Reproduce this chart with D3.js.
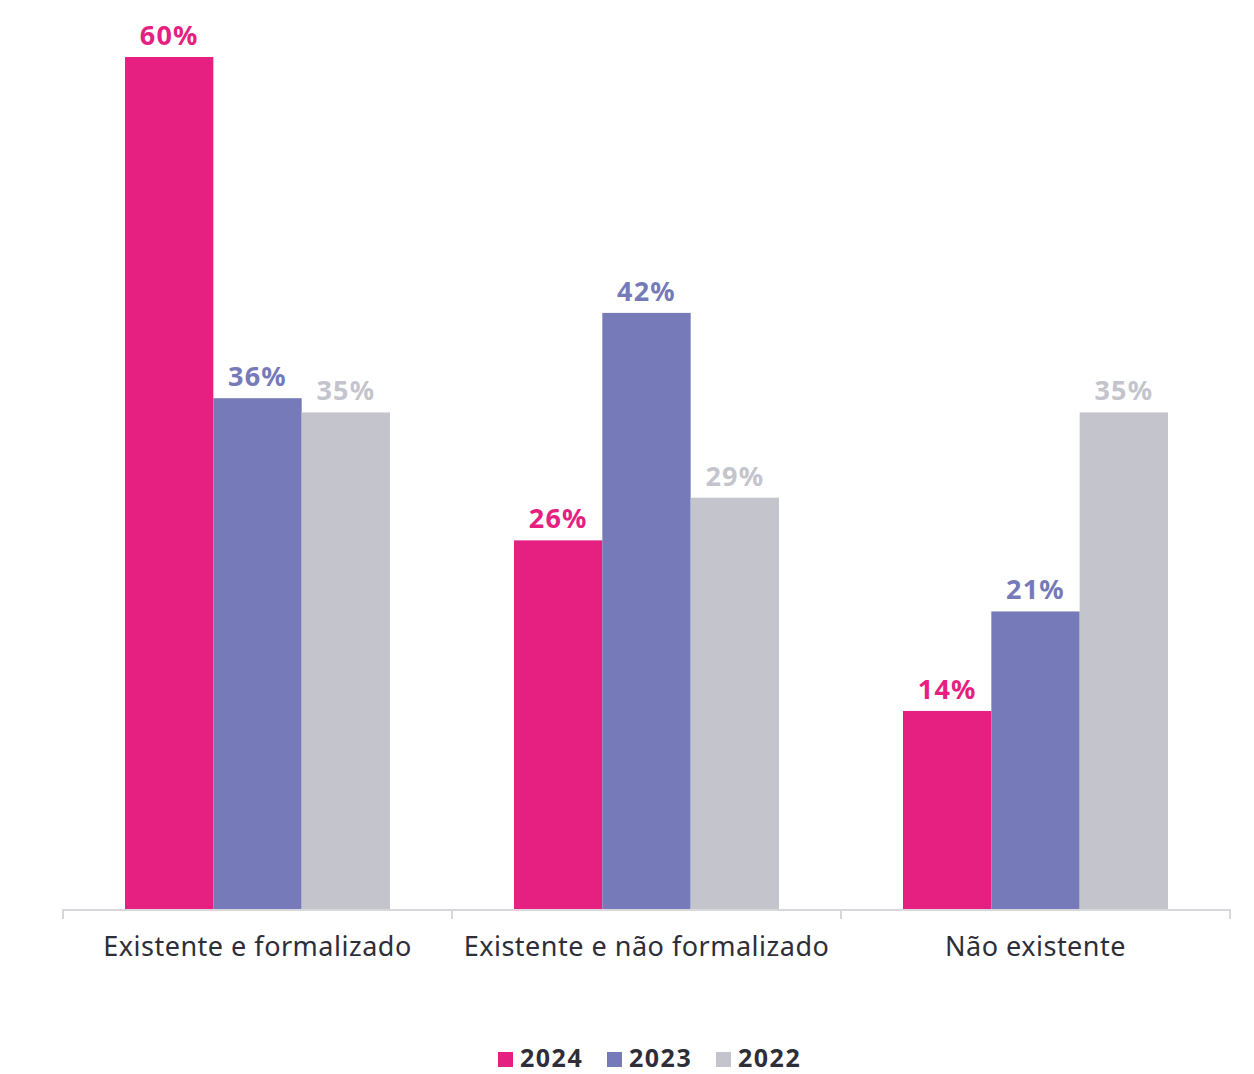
<!DOCTYPE html>
<html>
<head>
<meta charset="utf-8">
<script src="https://cdn.jsdelivr.net/npm/d3@7"></script>
<style>
	body { margin: 0; background: #fff; }
	svg text { font-family: "Noto Sans", "Open Sans", sans-serif; }
</style>
</head>
<body>
<svg class="mainsvg" width="1254" height="1074"></svg>
<script>
var categories = ["Existente e formalizado", "Existente e não formalizado", "Não existente"];
var years = ["2024", "2023", "2022"];
var values2024 = [60, 26, 14];
var values2023 = [36, 42, 21];
var values2022 = [35, 29, 35];

var colors = ["#e62081", "#767ab8", "#c4c4cd"];
var labelColors = ["#e62081", "#767ab8", "#c4c4cd"];

var svg = d3.select('.mainsvg');
var baseY = 910;

var series = [values2024, values2023, values2022];
var data = categories.map(function (c, i) {
	return { cat: c, vals: years.map(function (y, j) { return { year: y, idx: j, v: series[j][i] }; }) };
});

var x0 = d3.scaleBand().domain(categories).range([63, 1230]).padding(0);
var x1 = d3.scaleBand().domain(years).range([62, x0.bandwidth() - 62]).padding(0);
var y = d3.scaleLinear().domain([0, 60]).range([baseY, 57]);

var groups = svg.selectAll('.group')
	.data(data)
	.enter()
	.append('g')
	.attr('class', 'group')
	.attr('transform', function (d) { return 'translate(' + x0(d.cat) + ',0)'; });

groups.selectAll('rect')
	.data(function (d) { return d.vals; })
	.enter()
	.append('rect')
	.attr('x', function (d) { return x1(d.year); })
	.attr('y', function (d) { return y(d.v); })
	.attr('width', x1.bandwidth())
	.attr('height', function (d) { return baseY - y(d.v); })
	.attr('fill', function (d) { return colors[d.idx]; });

groups.selectAll('.val')
	.data(function (d) { return d.vals; })
	.enter()
	.append('text')
	.attr('class', 'val')
	.attr('x', function (d) { return x1(d.year) + x1.bandwidth() / 2; })
	.attr('y', function (d) { return y(d.v) - 12; })
	.attr('fill', function (d) { return labelColors[d.idx]; })
	.attr('font-size', '27px')
	.attr('font-weight', '700')
	.attr('letter-spacing', '1.2px')
	.style('text-anchor', 'middle')
	.text(function (d) { return d.v + '%'; });

// axis
var axis = svg.append('g')
	.attr('transform', 'translate(0,' + baseY + ')')
	.call(d3.axisBottom(x0).tickSize(0).tickPadding(0).tickFormat(''));
axis.select('.domain').attr('stroke', '#d8d8dc').attr('stroke-width', 2).attr('d', 'M63,9V0H1230V9');
axis.selectAll('.tick').remove();

var bounds = x0.domain().map(function (c) { return x0(c); }).concat([x0.range()[1]]);
svg.selectAll('.sep')
	.data(bounds.slice(1, -1))
	.enter()
	.append('line')
	.attr('x1', function (d) { return d; })
	.attr('x2', function (d) { return d; })
	.attr('y1', baseY)
	.attr('y2', baseY + 9)
	.attr('stroke', '#d8d8dc')
	.attr('stroke-width', 2);

svg.selectAll('.cat')
	.data(categories)
	.enter()
	.append('text')
	.attr('class', 'cat')
	.attr('x', function (d) { return x0(d) + x0.bandwidth() / 2; })
	.attr('y', 956)
	.attr('fill', '#2e2e38')
	.attr('font-size', '27px')
	.attr('letter-spacing', '0.5px')
	.style('text-anchor', 'middle')
	.text(function (d) { return d; });

// legend
var legendX = [498, 607, 716];
var legend = svg.selectAll('.legend')
	.data(years)
	.enter()
	.append('g')
	.attr('class', 'legend')
	.attr('transform', function (d, i) { return 'translate(' + legendX[i] + ',1052)'; });

legend.append('rect')
	.attr('width', 15)
	.attr('height', 15)
	.attr('fill', function (d, i) { return colors[i]; });

legend.append('text')
	.attr('x', 22)
	.attr('y', 15)
	.attr('fill', '#2e2e38')
	.attr('font-size', '25px')
	.attr('font-weight', '700')
	.attr('letter-spacing', '1.5px')
	.text(function (d) { return d; });
</script>
</body>
</html>
